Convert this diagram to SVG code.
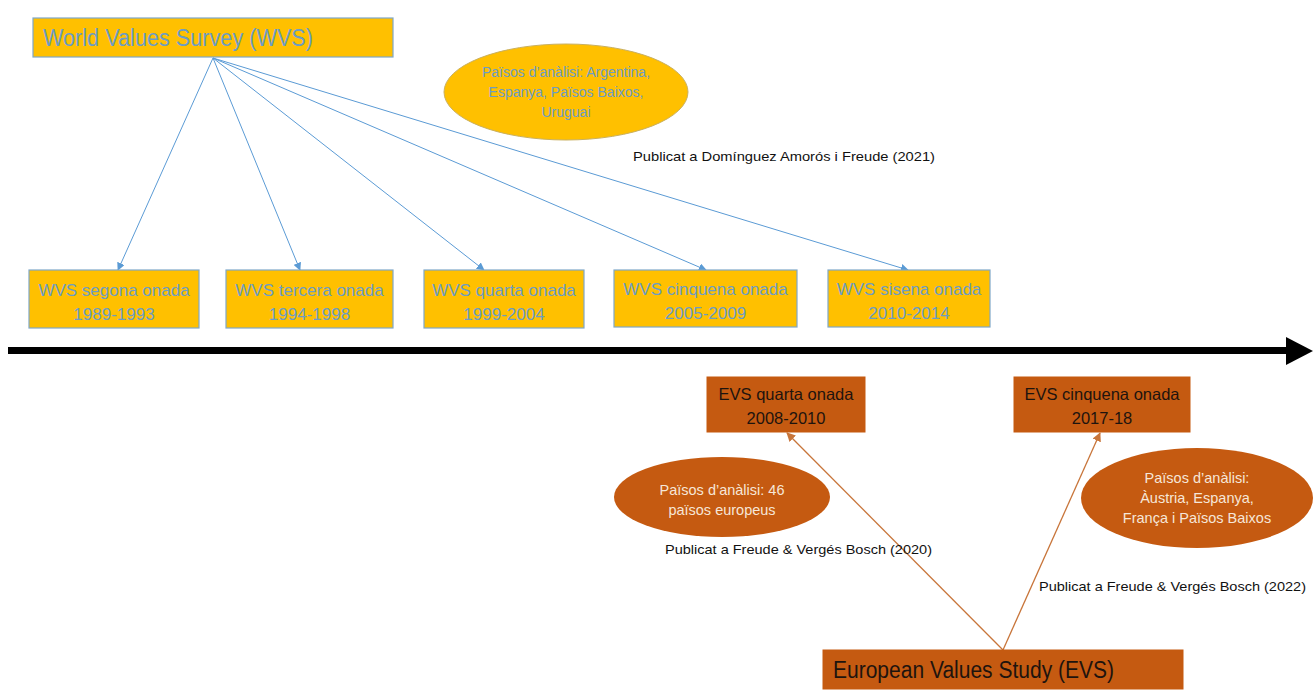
<svg xmlns="http://www.w3.org/2000/svg" width="1315" height="698" viewBox="0 0 1315 698">
<defs>
<style>
.wbox{fill:#FFC000;stroke:#7FA7C9;stroke-width:1.2}
.wtxt{font-family:"Liberation Sans",Arial,sans-serif;fill:#6C9CC4;text-anchor:middle}
.obox{fill:#C55A11;stroke:#C55A11}
.otxt{font-family:"Liberation Sans",Arial,sans-serif;fill:#1E140E;text-anchor:middle}
.etxt{font-family:"Liberation Sans",Arial,sans-serif;fill:#F6E6D8;text-anchor:middle;font-size:14.5px}
.pub{font-family:"Liberation Sans",Arial,sans-serif;fill:#111;font-size:13.5px}
.bl{stroke:#5B9BD5;stroke-width:1;fill:none;marker-end:url(#ab)}
.ol{stroke:#C8753A;stroke-width:1.3;fill:none;marker-end:url(#ao)}
</style>
<marker id="ab" viewBox="0 0 10 10" refX="9" refY="5" markerWidth="8" markerHeight="8" markerUnits="userSpaceOnUse" orient="auto"><path d="M0,0L10,5L0,10z" fill="#5B9BD5"/></marker>
<marker id="ao" viewBox="0 0 10 10" refX="9" refY="5" markerWidth="9" markerHeight="9" markerUnits="userSpaceOnUse" orient="auto"><path d="M0,0L10,5L0,10z" fill="#C8753A"/></marker>
</defs>
<rect width="1315" height="698" fill="#fff"/>

<g id="connectors">
<line class="bl" x1="213" y1="58" x2="118" y2="270"/>
<line class="bl" x1="213" y1="58" x2="300" y2="270"/>
<line class="bl" x1="213" y1="58" x2="484" y2="270"/>
<line class="bl" x1="213" y1="58" x2="706" y2="270"/>
<line class="bl" x1="213" y1="58" x2="908" y2="270"/>
<line class="ol" x1="1003" y1="650" x2="787" y2="433"/>
<line class="ol" x1="1003" y1="650" x2="1100" y2="433"/>
<g id="timeline">
<line x1="8" y1="350.5" x2="1290" y2="350.5" stroke="#000" stroke-width="7"/>
<path d="M1286,337L1313,351L1286,365z" fill="#000"/>
</g>
</g>

<g id="wvs">
<rect class="wbox" x="33" y="18" width="360" height="39"/>
<text class="wtxt" x="43" y="46" font-size="23" style="text-anchor:start" textLength="270" lengthAdjust="spacingAndGlyphs">World Values Survey (WVS)</text>
</g>

<g id="wvs-countries">
<ellipse cx="566" cy="92" rx="122" ry="48" fill="#FFC000" stroke="#C9B060" stroke-width="1"/>
<text class="wtxt" font-size="14"><tspan x="566" y="77">Països d’anàlisi: Argentina,</tspan><tspan x="566" y="97">Espanya, Països Baixos,</tspan><tspan x="566" y="117">Uruguai</tspan></text>
</g>
<g id="pub-wvs"><text class="pub" x="633" y="161" textLength="302" lengthAdjust="spacingAndGlyphs">Publicat a Domínguez Amorós i Freude (2021)</text></g>

<g id="wvs2"><rect class="wbox" x="29" y="270" width="170" height="58"/><text class="wtxt" font-size="17"><tspan x="114" y="296">WVS segona onada</tspan><tspan x="114" y="320">1989-1993</tspan></text></g>
<g id="wvs3"><rect class="wbox" x="226" y="270" width="167" height="58"/><text class="wtxt" font-size="17"><tspan x="309.5" y="296">WVS tercera onada</tspan><tspan x="309.5" y="320">1994-1998</tspan></text></g>
<g id="wvs4"><rect class="wbox" x="424" y="270" width="160" height="58"/><text class="wtxt" font-size="17"><tspan x="504" y="296">WVS quarta onada</tspan><tspan x="504" y="320">1999-2004</tspan></text></g>
<g id="wvs5"><rect class="wbox" x="614" y="270" width="183" height="57"/><text class="wtxt" font-size="17"><tspan x="705.5" y="295">WVS cinquena onada</tspan><tspan x="705.5" y="319">2005-2009</tspan></text></g>
<g id="wvs6"><rect class="wbox" x="828" y="270" width="162" height="57"/><text class="wtxt" font-size="17"><tspan x="909" y="295">WVS sisena onada</tspan><tspan x="909" y="319">2010-2014</tspan></text></g>

<g id="evs4"><rect class="obox" x="707" y="377" width="158" height="55"/><text class="otxt" font-size="16.5"><tspan x="786" y="400">EVS quarta onada</tspan><tspan x="786" y="424">2008-2010</tspan></text></g>
<g id="evs5"><rect class="obox" x="1014" y="377" width="176" height="55"/><text class="otxt" font-size="16.5"><tspan x="1102" y="400">EVS cinquena onada</tspan><tspan x="1102" y="424">2017-18</tspan></text></g>

<g id="evs4-countries">
<ellipse cx="722" cy="497" rx="108" ry="40" fill="#C55A11"/>
<text class="etxt"><tspan x="722" y="495">Països d’anàlisi: 46</tspan><tspan x="722" y="515">països europeus</tspan></text>
</g>
<g id="evs5-countries">
<ellipse cx="1197" cy="498" rx="116" ry="50" fill="#C55A11"/>
<text class="etxt"><tspan x="1197" y="483">Països d’anàlisi:</tspan><tspan x="1197" y="503">Àustria, Espanya,</tspan><tspan x="1197" y="523">França i Països Baixos</tspan></text>
</g>
<g id="pub-evs4"><text class="pub" x="665" y="554" textLength="267" lengthAdjust="spacingAndGlyphs">Publicat a Freude &amp; Vergés Bosch (2020)</text></g>
<g id="pub-evs5"><text class="pub" x="1039" y="591" textLength="267" lengthAdjust="spacingAndGlyphs">Publicat a Freude &amp; Vergés Bosch (2022)</text></g>

<g id="evs">
<rect class="obox" x="823" y="650" width="360" height="39"/>
<text class="otxt" x="833" y="678" font-size="23" style="text-anchor:start" textLength="281" lengthAdjust="spacingAndGlyphs">European Values Study (EVS)</text>
</g>
</svg>
